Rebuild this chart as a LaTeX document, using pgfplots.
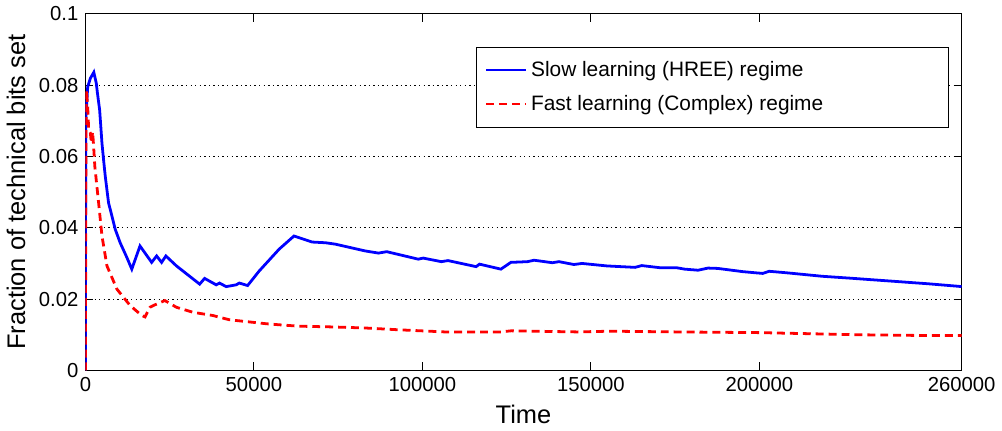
\documentclass[border=0pt]{standalone}
\usepackage{fontspec}
\setmainfont{Liberation Sans}
\usepackage{pgfplots}
\pgfplotsset{compat=1.18}
\definecolor{mblue}{RGB}{0,0,255}
\definecolor{mred}{RGB}{255,0,0}
\begin{document}
\begin{tikzpicture}
\begin{axis}[
  scale only axis, width=441pt, height=179.5pt,
  xmin=0, xmax=260000, ymin=0, ymax=0.1,
  xtick={0,50000,100000,150000,200000,260000},
  xticklabels={0,50000,100000,150000,200000,260000},
  ytick={0,0.02,0.04,0.06,0.08,0.1},
  yticklabels={0,0.02,0.04,0.06,0.08,0.1},
  scaled x ticks=false, scaled y ticks=false,
  tick align=inside, tick pos=both, major tick length=4pt,
  axis line style={black, line width=0.5pt},
  tick style={black, line width=0.5pt},
  ymajorgrids, grid style={black, dash pattern=on 0.7pt off 1.6pt, line width=0.45pt},
  tick label style={font=\fontsize{10.2}{12}\selectfont},
  label style={font=\fontsize{12.8}{14}\selectfont},
  xlabel={Time}, ylabel={Fraction of technical bits set},
  legend cell align=left,
  legend image code/.code={\draw[#1] (0pt,0pt) -- (20pt,0pt);},
  legend style={at={(0.446,0.908)}, anchor=north west, draw=black, line width=0.5pt,
    font=\fontsize{10.5}{12}\selectfont, row sep=4pt, inner xsep=4pt, inner ysep=5pt},
]
\addplot[mblue, line width=1.4pt] coordinates {
(0,0) (100,0.07) (680,0.0795) (1470,0.0819) (2500,0.0836) (3240,0.0805) (3540,0.078)
(4230,0.073) (4920,0.0637) (5400,0.059) (5900,0.0544) (6870,0.047) (7870,0.0433)
(8840,0.0396) (10320,0.0358) (12290,0.0317) (13770,0.0284) (16200,0.0349)
(19660,0.0303) (21140,0.0321) (22610,0.0303) (23880,0.0321) (27030,0.0293)
(33900,0.0242) (35380,0.0258) (38820,0.0240) (39800,0.0245) (41770,0.0235)
(44720,0.0240) (45690,0.0245) (48140,0.0238) (51590,0.0279) (57490,0.034)
(61910,0.0377) (67300,0.036) (71250,0.0358) (74200,0.0354) (83050,0.0335)
(86970,0.0329) (89410,0.0333) (98760,0.0312) (100230,0.0315) (105630,0.0305)
(107600,0.0308) (115950,0.0291) (116950,0.0298) (123300,0.0284) (126260,0.0303)
(131190,0.0305) (133160,0.0309) (138560,0.0302) (140530,0.0305) (144950,0.0297)
(147400,0.0300) (154770,0.0293) (163110,0.0289) (165090,0.0294) (170480,0.0288)
(175410,0.0288) (177850,0.0284) (181800,0.0281) (184750,0.0287) (187700,0.0286)
(195070,0.0277) (200960,0.0272) (202910,0.0278) (207830,0.0274) (218650,0.0264)
(226500,0.0259) (238290,0.0251) (250080,0.0243) (258930,0.0236) (260000,0.0235)
};
\addlegendentry{\makebox[204pt][l]{Slow learning (HREE) regime}}
\addplot[mred, line width=1.4pt, dash pattern=on 4pt off 2.5pt] coordinates {
(0,0) (150,0.06) (300,0.0786) (680,0.0739) (980,0.0674) (1470,0.0666) (1770,0.0638)
(2150,0.0669) (2450,0.0627) (2800,0.0572) (3920,0.047) (4920,0.0377) (6400,0.0293)
(9350,0.0228) (13270,0.0182) (16720,0.0154) (17690,0.0150) (19160,0.0177)
(20640,0.0184) (23580,0.0196) (27030,0.0177) (31930,0.0163) (37820,0.0154)
(42750,0.0142) (53560,0.0131) (57490,0.0128) (63380,0.0124) (73200,0.0122)
(83050,0.0119) (92860,0.0114) (106620,0.0108) (123300,0.0108) (126260,0.0111)
(145930,0.0108) (155740,0.0110) (175410,0.0108) (199970,0.0106) (214700,0.0103)
(229450,0.0100) (248130,0.0098) (260000,0.0098)
};
\addlegendentry{\makebox[204pt][l]{Fast learning (Complex) regime}}
\end{axis}
\end{tikzpicture}
\end{document}
